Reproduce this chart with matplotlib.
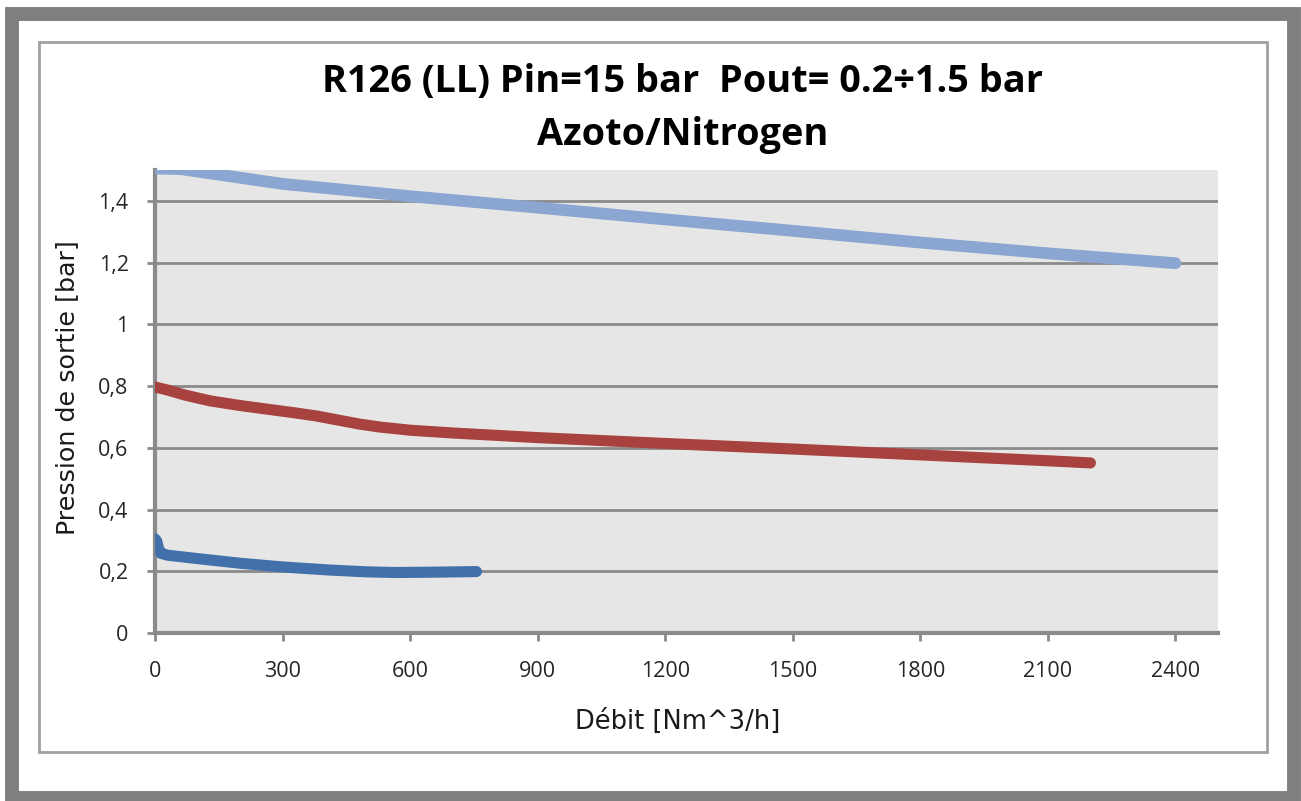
import matplotlib
matplotlib.use("Agg")
import matplotlib.pyplot as plt
from matplotlib.patches import Rectangle

# Data
x_light = [0, 60, 150, 300, 450, 600, 900, 1200, 1500, 1800, 2100, 2400]
y_light = [1.505, 1.503, 1.485, 1.455, 1.435, 1.415, 1.378, 1.340, 1.303, 1.265, 1.230, 1.198]

x_red = [0, 30, 70, 130, 200, 270, 330, 380, 430, 480, 530, 600, 700, 900, 1200, 1500, 1800, 2100, 2200]
y_red = [0.797, 0.787, 0.771, 0.752, 0.737, 0.724, 0.713, 0.703, 0.690, 0.677, 0.667, 0.657, 0.648, 0.633, 0.614, 0.596, 0.577, 0.558, 0.551]

x_blue = [0, 4, 8, 14, 30, 100, 200, 300, 410, 500, 565, 650, 756]
y_blue = [0.305, 0.298, 0.275, 0.258, 0.252, 0.241, 0.226, 0.214, 0.204, 0.198, 0.196, 0.197, 0.199]

xticks = [0, 300, 600, 900, 1200, 1500, 1800, 2100, 2400]
yticks = [0, 0.2, 0.4, 0.6, 0.8, 1.0, 1.2, 1.4]
ytick_labels = ["0", "0,2", "0,4", "0,6", "0,8", "1", "1,2", "1,4"]

W, H = 1301, 801
fig = plt.figure(figsize=(W / 100, H / 100), dpi=100)
fig.patch.set_facecolor("white")

def px_rect(x0, y0, x1, y1, **kw):
    r = Rectangle((x0 / W, 1 - y1 / H), (x1 - x0) / W, (y1 - y0) / H,
                  transform=fig.transFigure, **kw)
    fig.add_artist(r)
    return r

# outer thick gray border
px_rect(12, 14, 1294, 798, fill=False, edgecolor="#7f7f7f", linewidth=10, zorder=0)
# inner thin frame
px_rect(39, 42, 1267, 752, fill=False, edgecolor="#a0a0a0", linewidth=2, zorder=0)

ax = fig.add_axes([155 / W, 1 - 633 / H, (1218 - 155) / W, (633 - 170) / H])
ax.set_facecolor("#e6e6e6")
ax.set_xlim(0, 2500)
ax.set_ylim(0, 1.5)

ax.set_yticks(yticks)
ax.set_yticklabels(ytick_labels)
ax.set_xticks(xticks)
ax.grid(axis="y", color="#8a8a8a", linewidth=2, zorder=1)
ax.set_axisbelow(True)

for s in ["top", "right"]:
    ax.spines[s].set_visible(False)
for s in ["left", "bottom"]:
    ax.spines[s].set_color("#8a8a8a")
    ax.spines[s].set_linewidth(3)

ax.tick_params(axis="both", direction="out", length=6, width=2, color="#8a8a8a",
               labelsize=15.5, labelcolor="#262626")
for lab in ax.get_xticklabels() + ax.get_yticklabels():
    lab.set_family("Open Sans")
ax.tick_params(axis="x", pad=14)
ax.tick_params(axis="y", pad=13)

ax.plot(x_light, y_light, color="#8aa6d1", linewidth=8.5, solid_capstyle="round",
        solid_joinstyle="round", zorder=3)
ax.plot(x_red, y_red, color="#a8423f", linewidth=8, solid_capstyle="round",
        solid_joinstyle="round", zorder=3)
ax.plot(x_blue, y_blue, color="#4170aa", linewidth=8, solid_capstyle="round",
        solid_joinstyle="round", zorder=3)

ax.set_xlabel("Débit [Nm^3/h]", fontsize=18.5, family="DejaVu Sans", color="#1a1a1a",
              va="center")
ax.xaxis.set_label_coords(0.492, -0.192)
ax.set_ylabel("Pression de sortie [bar]", fontsize=18.3, family="DejaVu Sans", color="#1a1a1a",
              va="center")
ax.yaxis.set_label_coords(-0.0828, 0.531)

fig.text(683 / W, 1 - 82 / H, "R126 (LL) Pin=15 bar  Pout= 0.2÷1.5 bar",
         ha="center", va="center", fontsize=27.3, fontweight="bold", family="Open Sans")
fig.text(683 / W, 1 - 135 / H, "Azoto/Nitrogen",
         ha="center", va="center", fontsize=27.3, fontweight="bold", family="Open Sans")

fig.savefig("out.png", dpi=100, facecolor="white")
